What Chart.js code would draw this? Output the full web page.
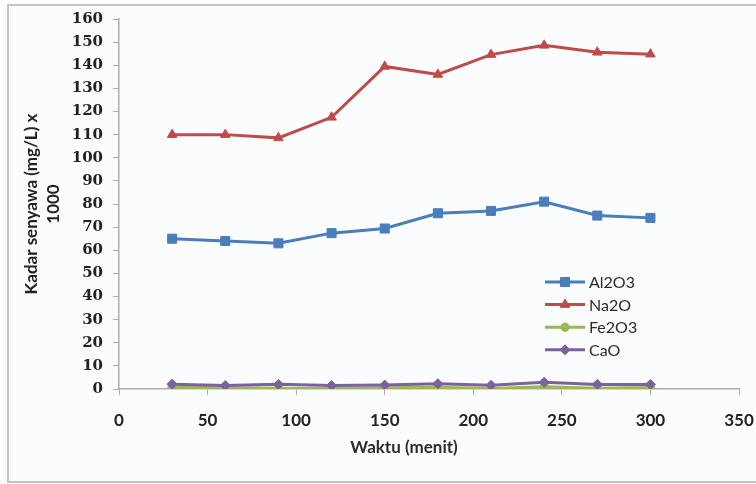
<!DOCTYPE html>
<html>
<head>
<meta charset="utf-8">
<script src="https://cdn.jsdelivr.net/npm/chart.js@4.4.1/dist/chart.umd.min.js"></script>
<style>
  html, body { margin: 0; padding: 0; background: #fbfcfd; }
  #wrap { width: 756px; height: 484px; position: relative; }
</style>
</head>
<body>
<div id="wrap"><canvas id="c" width="756" height="484"></canvas></div>
<script>
// Sampling times (minutes)
const waktu = [30, 60, 90, 120, 150, 180, 210, 240, 270, 300];

// Concentrations (mg/L x 1000)
const al2o3 = [65, 64, 63, 67.4, 69.4, 76, 77, 81, 75, 74];
const na2o  = [110, 110, 108.6, 117.5, 139.5, 136, 144.6, 148.6, 145.6, 144.8];
const fe2o3 = [0.8, 0.5, 0.3, 0.2, 0.5, 0.8, 0.2, 1.0, 0.3, 0.6];
const cao   = [2.1, 1.5, 2.0, 1.5, 1.7, 2.3, 1.6, 2.9, 2.0, 2.0];

const seriesNames = ['Al2O3', 'Na2O', 'Fe2O3', 'CaO'];

const xTicks = { min: 0, max: 350, step: 50 };
const yTicks = { min: 0, max: 160, step: 10 };

const xTitle = 'Waktu (menit)';
const yTitle = ['Kadar senyawa (mg/L) x', '1000'];

const toPoints = arr => waktu.map((t, i) => ({ x: t, y: arr[i] }));

const axisColor = '#b3a9a9';

// Legend drawn inside the plot area, Excel style
const innerLegend = {
  id: 'innerLegend',
  afterDatasetsDraw(chart) {
    const ctx = chart.ctx;
    const x0 = 545, x1 = 585, tx = 589, y0 = 282, dy = 22.6;
    ctx.save();
    chart.data.datasets.forEach((ds, i) => {
      const y = y0 + i * dy;
      ctx.strokeStyle = ds.borderColor;
      ctx.lineWidth = 3;
      ctx.beginPath();
      ctx.moveTo(x0, y);
      ctx.lineTo(x1, y);
      ctx.stroke();
      ctx.fillStyle = ds.pointBackgroundColor;
      ctx.strokeStyle = ds.borderColor;
      ctx.lineWidth = 1;
      Chart.helpers.drawPoint(ctx, {
        pointStyle: ds.pointStyle,
        radius: ds.pointRadius,
        borderWidth: 1
      }, (x0 + x1) / 2, y);
      ctx.fillStyle = '#2b2b2b';
      ctx.font = '16px Lato';
      ctx.textBaseline = 'middle';
      ctx.textAlign = 'left';
      ctx.fillText(ds.label, tx, y + 1);
    });
    ctx.restore();
  }
};

// Page background and outer frame
const frame = {
  id: 'frame',
  beforeDraw(chart) {
    const ctx = chart.ctx;
    ctx.save();
    ctx.fillStyle = '#fbfcfd';
    ctx.fillRect(0, 0, chart.width, chart.height);
    ctx.strokeStyle = '#c4c4c4';
    ctx.lineWidth = 2;
    ctx.strokeRect(8, 5, 760, 477);
    ctx.restore();
  }
};

// Horizontal axis caption, set slightly left of the plot centre
const xCaption = {
  id: 'xCaption',
  afterDraw(chart) {
    const ctx = chart.ctx;
    ctx.save();
    ctx.fillStyle = '#2a2a2a';
    ctx.font = 'bold 17px Lato';
    ctx.textAlign = 'center';
    ctx.textBaseline = 'middle';
    ctx.fillText(xTitle, 404, 448);
    ctx.restore();
  }
};

new Chart(document.getElementById('c'), {
  type: 'line',
  data: {
    datasets: [
      { label: seriesNames[0], data: toPoints(al2o3), borderColor: '#4a7ebb', pointBackgroundColor: '#4a7ebb',
        pointStyle: 'rect', pointRadius: 6.4, order: 4 },
      { label: seriesNames[1], data: toPoints(na2o), borderColor: '#be4b48', pointBackgroundColor: '#be4b48',
        pointStyle: 'triangle', pointRadius: 5.5, order: 3 },
      { label: seriesNames[2], data: toPoints(fe2o3), borderColor: '#98b954', pointBackgroundColor: '#98b954',
        pointStyle: 'circle', pointRadius: 4.2, order: 2 },
      { label: seriesNames[3], data: toPoints(cao), borderColor: '#7d60a0', pointBackgroundColor: '#7d60a0',
        pointStyle: 'rectRot', pointRadius: 5, order: 1 }
    ].map(d => Object.assign({ borderWidth: 3, pointBorderColor: d.borderColor, pointBorderWidth: 1,
                               tension: 0, fill: false }, d))
  },
  options: {
    responsive: false,
    animation: false,
    layout: { padding: { left: 10, right: 3, top: 17, bottom: 0 } },
    plugins: { legend: { display: false }, tooltip: { enabled: false } },
    scales: {
      x: {
        type: 'linear',
        min: xTicks.min, max: xTicks.max,
        afterFit(s) { s.height = 95; s.paddingRight = 17; },
        ticks: { stepSize: xTicks.step, color: '#222', padding: 15,
                 font: { family: 'Lato', size: 17, weight: 'bold' } },
        grid: { drawOnChartArea: false, drawTicks: true, tickLength: 6, color: axisColor },
        border: { color: axisColor, width: 1.5 },
        title: { display: false }
      },
      y: {
        min: yTicks.min, max: yTicks.max,
        afterFit(s) { s.width = 109; },
        ticks: { stepSize: yTicks.step, color: '#222', padding: 10,
                 font: { family: 'DejaVu Serif', size: 15, weight: 'bold' } },
        grid: { drawOnChartArea: false, drawTicks: true, tickLength: 6, color: axisColor },
        border: { color: axisColor, width: 1.5 },
        title: { display: true, text: yTitle, color: '#222',
                 font: { family: 'Lato', size: 17, weight: 'bold', lineHeight: 1.3 },
                 padding: { top: 10, bottom: 0 } }
      }
    }
  },
  plugins: [frame, innerLegend, xCaption]
});
</script>
</body>
</html>
